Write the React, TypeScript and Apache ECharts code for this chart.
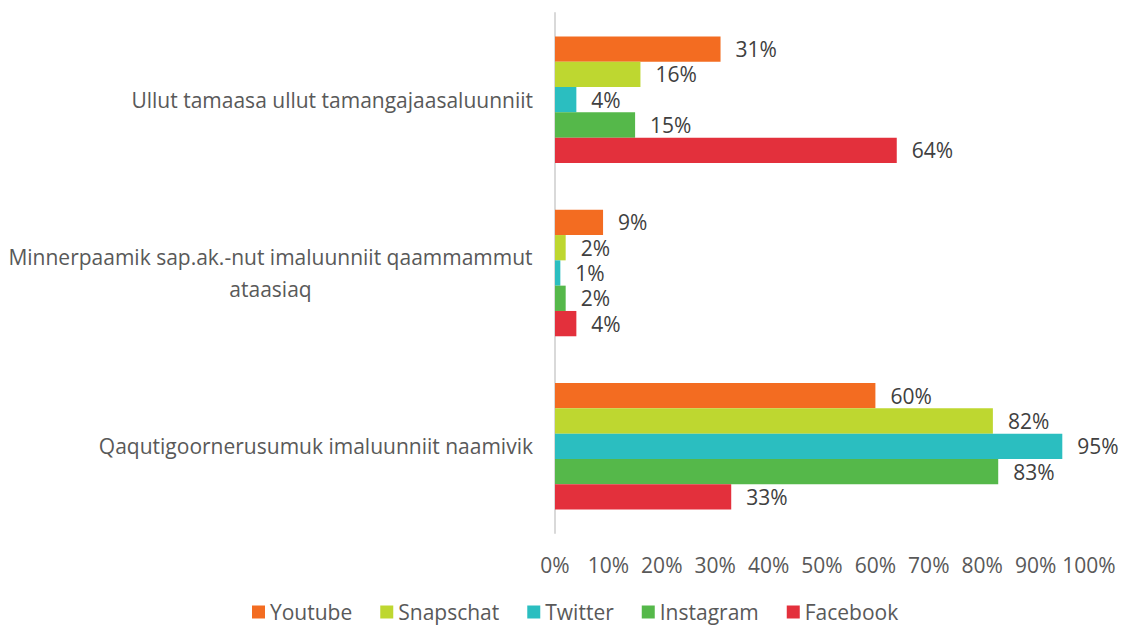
import React, { useEffect, useRef } from "react";
import * as echarts from "echarts";

const categories = [
  "Qaqutigoornerusumuk imaluunniit naamivik",
  "Minnerpaamik sap.ak.-nut imaluunniit qaammammut\nataasiaq",
  "Ullut tamaasa ullut tamangajaasaluunniit",
];
const legendOrder = ["Youtube", "Snapschat", "Twitter", "Instagram", "Facebook"];
const youtube = [60, 9, 31];
const snapschat = [82, 2, 16];
const twitter = [95, 1, 4];
const instagram = [83, 2, 15];
const facebook = [33, 4, 64];
const xTicks = [0, 10, 20, 30, 40, 50, 60, 70, 80, 90, 100];

const colors: Record<string, string> = {
  Youtube: "#F36C21",
  Snapschat: "#BED730",
  Twitter: "#2BBEC0",
  Instagram: "#55B84A",
  Facebook: "#E3303C",
};

const FONT = "Open Sans";
const CAT_SIZE = 21;
const VAL_SIZE = 21;

function measure(text: string, size: number): number {
  const c = document.createElement("canvas");
  const ctx = c.getContext("2d");
  if (!ctx) return text.length * size * 0.5;
  ctx.font = `${size}px "${FONT}"`;
  return ctx.measureText(text).width;
}

export default function App() {
  const ref = useRef<HTMLDivElement>(null);
  useEffect(() => {
    if (!ref.current) return;
    const chart = echarts.init(ref.current, undefined, { renderer: "svg" });
    const seriesDefs: [string, number[]][] = [
      ["Youtube", youtube],
      ["Snapschat", snapschat],
      ["Twitter", twitter],
      ["Instagram", instagram],
      ["Facebook", facebook],
    ];
    const lineW = Math.ceil(
      Math.max(...categories.map((c) => Math.max(...c.split("\n").map((l) => measure(l, CAT_SIZE)))))
    );
    chart.setOption({
      animation: false,
      textStyle: { fontFamily: FONT },
      grid: { left: 555, right: 32, top: 13, bottom: 95, containLabel: false },
      legend: {
        data: legendOrder,
        left: 252,
        top: 601,
        padding: 0,
        itemWidth: 13,
        itemHeight: 13,
        itemGap: 28,
        icon: "rect",
        textStyle: { fontSize: 21, lineHeight: 22, color: "#595959", fontFamily: FONT },
      },
      xAxis: {
        type: "value",
        min: 0,
        max: 100,
        interval: 10,
        axisLine: { show: false },
        axisTick: { show: false },
        splitLine: { show: false },
        axisLabel: {
          formatter: (v: number) => (xTicks.includes(v) ? `${v}%` : ""),
          color: "#595959",
          fontSize: 21,
          margin: 21,
          fontFamily: FONT,
        },
      },
      yAxis: {
        type: "category",
        data: categories,
        axisLine: { show: true, lineStyle: { color: "#D9D9D9", width: 2 } },
        axisTick: { show: false },
        axisLabel: {
          margin: 22,
          color: "#595959",
          fontSize: CAT_SIZE,
          fontFamily: FONT,
          lineHeight: 32,
          formatter: (v: string) =>
            v.includes("\n")
              ? v
                  .split("\n")
                  .map((l) => `{c|${l}}`)
                  .join("\n")
              : v,
          rich: {
            c: {
              width: lineW,
              align: "center",
              fontSize: CAT_SIZE,
              color: "#595959",
              fontFamily: FONT,
              lineHeight: 32,
            },
          },
        },
      },
      series: seriesDefs.map(([name, data]) => ({
        name,
        type: "bar",
        data,
        barGap: "0%",
        barCategoryGap: "27%",
        itemStyle: { color: colors[name] },
        label: {
          show: true,
          position: "right",
          distance: 15,
          formatter: "{c}%",
          color: "#404040",
          fontSize: VAL_SIZE,
          fontFamily: FONT,
        },
      })),
    });
    return () => chart.dispose();
  }, []);
  return (
    <div
      ref={ref}
      style={{ position: "fixed", left: 0, top: 0, width: 1121, height: 628, background: "#fff" }}
    />
  );
}
